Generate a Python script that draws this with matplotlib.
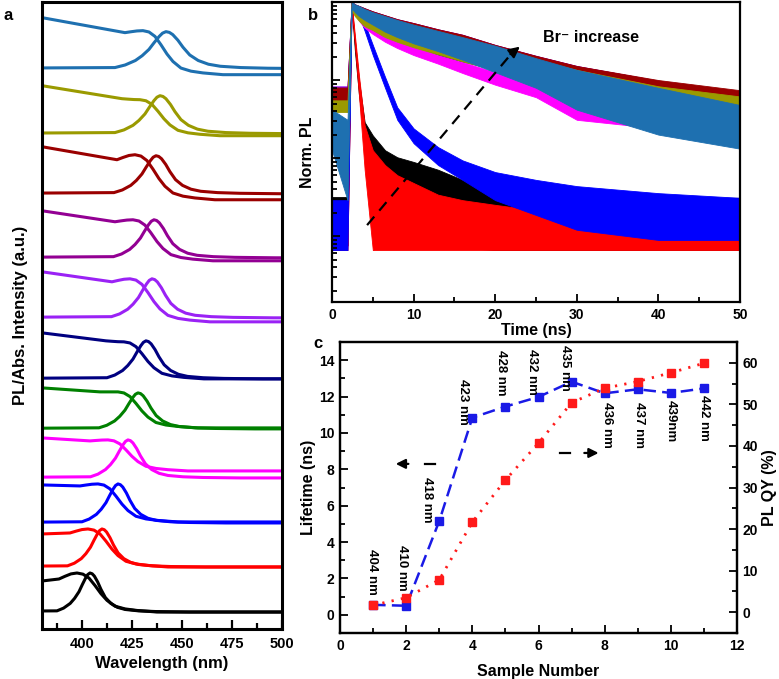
import numpy as np
import matplotlib
matplotlib.use('Agg')
import matplotlib.pyplot as plt
from matplotlib.ticker import MultipleLocator, NullFormatter, LogLocator

plt.rcParams['font.family'] = ['Liberation Sans', 'DejaVu Sans']
plt.rcParams['font.weight'] = 'bold'
plt.rcParams['axes.labelweight'] = 'bold'

# ---------------- data: panel a (PL / absorption spectra) ----------------
colors = ['#000000', '#ff0000', '#0000ff', '#ff00ff', '#008000', '#000080',
          '#9a22f5', '#930093', '#9a0000', '#9a9a00', '#1e70b0']
pl_peak = [404, 410, 418, 423, 428, 432, 435, 436, 437, 439, 442]
pl_width = [1.1, 1.15, 1.2, 1.25, 1.3, 1.3, 1.35, 1.35, 1.4, 1.5, 1.7]
pl_height = [39, 38, 39, 38, 36, 38, 39, 38, 38, 38, 37]
pl_base = [17, 62, 106, 151, 200, 250, 311, 371, 435, 495, 560]
abs_peak = [397.5, 403, 408, 413, 418, 421, 424, 425.5, 426.5, 429, 430.5]
abs_tail_shift = [0, 0, 1, 7, 1, 0, -4, -3, -6, -2, -6]
abs_left = [31, 33, 37, 33, 40, 46, 50, 50, 53, 50, 57]
abs_valley = [33, 34, 36, 30, 36, 38, 40, 39, 40, 37, 42]
abs_bump = [39, 38, 38, 31, 36, 37, 43, 41, 45, 36, 44]

# line shapes (offset from peak in nm, relative height)
pl_dx = [-80, -15, -12, -9, -7, -5, -3.5, -2, -1, 0, 1, 2, 3.5, 5, 7, 9.5, 12.5, 16, 22, 30, 45, 130]
pl_frac = [0, 0.03, 0.1, 0.22, 0.35, 0.52, 0.7, 0.87, 0.96, 1, 0.98, 0.92, 0.77, 0.58, 0.37,
           0.22, 0.12, 0.065, 0.03, 0.012, 0, 0]
abs_pre_dx = [-9, -6, -3]
abs_pre_w = [0, 0.45, 0.85]
abs_drop_dx = [0, 3, 6, 9, 12, 15, 19, 24, 30, 40, 120]
abs_drop_frac = [1, 0.97, 0.87, 0.68, 0.47, 0.3, 0.15, 0.08, 0.04, 0.0, 0.0]

# ---------------- data: panel b (PL decays, log10 of norm. PL, noise envelope) ----------------
t_knots = [0, 1.9, 2.4, 2.8, 3.3, 4, 5, 6.5, 8, 10, 13, 16, 20, 25, 30, 40, 50]
decay_hi = [
    [-2.50, -2.50, -0.01, -0.49, -1.00, -1.54, -1.71, -1.90, -1.99, -2.05, -2.15, -2.28, -2.38, -2.47, -2.50, -2.51, -2.51],
    [-3.12, -3.12, -0.01, -0.42, -0.94, -1.58, -1.90, -2.09, -2.22, -2.32, -2.47, -2.54, -2.60, -2.67, -2.73, -2.77, -2.77],
    [-2.54, -2.54, 0.00, -0.03, -0.09, -0.27, -0.55, -0.96, -1.35, -1.62, -1.86, -2.03, -2.18, -2.28, -2.36, -2.45, -2.51],
    [-1.10, -1.10, -0.01, -0.08, -0.17, -0.24, -0.32, -0.41, -0.49, -0.56, -0.67, -0.77, -0.90, -1.03, -1.13, -1.26, -1.35],
    [-1.15, -1.15, -0.01, -0.04, -0.08, -0.14, -0.21, -0.28, -0.35, -0.41, -0.50, -0.58, -0.68, -0.79, -0.90, -1.06, -1.19],
    [-1.19, -1.19, -0.01, -0.05, -0.10, -0.17, -0.24, -0.32, -0.38, -0.45, -0.54, -0.62, -0.72, -0.83, -0.94, -1.10, -1.22],
    [-1.08, -1.08, 0.00, -0.03, -0.05, -0.08, -0.12, -0.17, -0.22, -0.27, -0.35, -0.42, -0.55, -0.69, -0.82, -1.01, -1.15],
    [-1.09, -1.09, 0.00, -0.03, -0.05, -0.08, -0.12, -0.17, -0.22, -0.27, -0.35, -0.42, -0.55, -0.69, -0.82, -1.01, -1.16],
    [-1.10, -1.10, 0.00, -0.03, -0.05, -0.08, -0.12, -0.17, -0.22, -0.27, -0.35, -0.42, -0.55, -0.69, -0.82, -1.00, -1.13],
    [-1.26, -1.26, 0.00, -0.05, -0.09, -0.13, -0.17, -0.23, -0.28, -0.33, -0.41, -0.49, -0.60, -0.74, -0.87, -1.08, -1.21],
    [-1.38, -1.51, 0.00, -0.03, -0.05, -0.09, -0.13, -0.18, -0.23, -0.29, -0.37, -0.45, -0.56, -0.72, -0.87, -1.10, -1.32],
]
decay_lo = [
    [-2.60, -2.60, -0.04, -0.62, -1.19, -1.77, -2.54, -2.92, -2.99, -3.05, -3.12, -3.15, -3.18, -3.18, -3.18, -3.18, -3.18],
    [-3.18, -3.18, -0.04, -0.55, -1.19, -2.15, -3.18, -3.18, -3.18, -3.18, -3.18, -3.18, -3.18, -3.18, -3.18, -3.18, -3.18],
    [-3.18, -3.18, -0.05, -0.09, -0.17, -0.37, -0.68, -1.10, -1.51, -1.81, -2.09, -2.28, -2.54, -2.73, -2.92, -3.05, -3.05],
    [-1.23, -1.23, -0.05, -0.14, -0.24, -0.33, -0.41, -0.51, -0.59, -0.68, -0.79, -0.91, -1.06, -1.22, -1.51, -1.62, -1.67],
    [-1.32, -1.32, -0.05, -0.10, -0.15, -0.23, -0.31, -0.40, -0.46, -0.54, -0.64, -0.73, -0.85, -0.97, -1.10, -1.29, -1.41],
    [-1.36, -1.36, -0.05, -0.12, -0.18, -0.26, -0.33, -0.42, -0.49, -0.56, -0.67, -0.76, -0.87, -1.00, -1.13, -1.32, -1.44],
    [-1.23, -1.23, -0.08, -0.14, -0.19, -0.23, -0.28, -0.35, -0.40, -0.46, -0.54, -0.63, -0.74, -0.90, -1.03, -1.22, -1.36],
    [-1.24, -1.24, -0.08, -0.14, -0.19, -0.23, -0.28, -0.35, -0.40, -0.46, -0.54, -0.63, -0.74, -0.90, -1.03, -1.22, -1.37],
    [-1.26, -1.26, -0.08, -0.13, -0.18, -0.23, -0.28, -0.35, -0.40, -0.46, -0.54, -0.63, -0.74, -0.90, -1.03, -1.21, -1.33],
    [-1.41, -1.41, -0.10, -0.18, -0.24, -0.31, -0.36, -0.45, -0.51, -0.58, -0.67, -0.76, -0.87, -1.03, -1.15, -1.36, -1.49],
    [-1.90, -2.54, -0.08, -0.13, -0.18, -0.23, -0.29, -0.38, -0.45, -0.53, -0.63, -0.74, -0.90, -1.10, -1.38, -1.70, -1.88],
]

# ---------------- data: panel c ----------------
sample = [1, 2, 3, 4, 5, 6, 7, 8, 9, 10, 11]
lifetime = [0.55, 0.5, 5.16, 10.84, 11.45, 11.98, 12.82, 12.18, 12.4, 12.2, 12.45]
plqy = [1.7, 3.5, 7.8, 21.7, 31.8, 40.7, 50.4, 53.9, 55.5, 57.6, 59.9]
peak_labels = ['404 nm', '410 nm', '418 nm', '423 nm', '428 nm', '432 nm', '435 nm',
               '436 nm', '437 nm', '439nm', '442 nm']

fig = plt.figure(figsize=(7.79, 6.79), dpi=100)

# ================= panel a =================
ax = fig.add_axes([0.0539, 0.0736, 0.308, 0.924])
for i in range(11):
    c = colors[i]
    base = pl_base[i]
    x = [pl_peak[i] + pl_width[i] * d for d in pl_dx]
    y = [base + pl_height[i] * f for f in pl_frac]
    ax.plot(x, y, color=c, lw=2.2)
    tail = base + abs_tail_shift[i]
    b = abs_peak[i]
    xa = [380] + [b + d for d in abs_pre_dx] + [b + d for d in abs_drop_dx]
    ya = [tail + abs_left[i]]
    ya += [tail + abs_valley[i] + w * (abs_bump[i] - abs_valley[i]) for w in abs_pre_w]
    ya += [tail + abs_bump[i] * f for f in abs_drop_frac]
    ax.plot(xa, ya, color=c, lw=2.2)
ax.set_xlim(380, 500)
ax.set_ylim(0, 627)
ax.set_yticks([])
ax.xaxis.set_major_locator(MultipleLocator(25))
ax.xaxis.set_minor_locator(MultipleLocator(12.5))
ax.tick_params(axis='x', which='both', direction='in', top=False, labelsize=10.5, pad=6, width=1.6)
ax.tick_params(axis='x', which='major', length=6.5)
ax.tick_params(axis='x', which='minor', length=4)
for s in ax.spines.values():
    s.set_linewidth(2.2)
ax.set_xlabel('Wavelength (nm)', fontsize=12, labelpad=3)
ax.set_ylabel('PL/Abs. Intensity (a.u.)', fontsize=12, labelpad=10)

# ================= panel b =================
bx = fig.add_axes([0.4262, 0.5552, 0.5237, 0.4418])
for i in range(11):
    lo = [10 ** v for v in decay_lo[i]]
    hi = [10 ** v for v in decay_hi[i]]
    bx.fill_between(t_knots, lo, hi, color=colors[i], lw=0.6, edgecolor=colors[i])
bx.set_yscale('log')
bx.set_xlim(0, 50)
bx.set_ylim(10 ** -3.846, 1.0)
bx.xaxis.set_major_locator(MultipleLocator(10))
bx.xaxis.set_minor_locator(MultipleLocator(5))
bx.yaxis.set_major_locator(LogLocator(base=10))
bx.yaxis.set_minor_locator(LogLocator(base=10, subs=np.arange(2, 10)))
bx.yaxis.set_major_formatter(NullFormatter())
bx.yaxis.set_minor_formatter(NullFormatter())
bx.tick_params(which='both', direction='in', top=False, right=False, labelsize=10, pad=4, width=1.3)
bx.tick_params(which='major', length=6)
bx.tick_params(which='minor', length=3.5)
for s in bx.spines.values():
    s.set_linewidth(1.6)
bx.set_xlabel('Time (ns)', fontsize=11.5, labelpad=1)
bx.set_ylabel('Norm. PL', fontsize=11.5, labelpad=8)
bx.plot([4.3, 22.0], [10 ** -2.86, 10 ** -0.66], color='k', lw=1.6, ls=(0, (5, 3.5)))
bx.annotate('', xy=(23.3, 10 ** -0.55), xytext=(21.6, 10 ** -0.69),
            arrowprops=dict(arrowstyle='-|>', color='k', lw=1.6, mutation_scale=16))
bx.text(25.9, 10 ** -0.45, 'Br\u207b increase', fontsize=11.5, ha='left', va='center')

# ================= panel c =================
cx = fig.add_axes([0.4365, 0.0677, 0.5096, 0.4286])
cx.plot(sample, lifetime, color='#1a1ae6', lw=1.8, ls=(0, (5, 2.5)), marker='s', ms=5.5)
cx.set_xlim(0, 12)
cx.set_ylim(-1, 15)
cx2 = cx.twinx()
cx2.plot(sample, plqy, color='#ff1a1a', lw=2.0, ls=(0, (0.8, 2.6)), marker='s', ms=5.5)
cx2.set_ylim(-5, 65)
cx.xaxis.set_major_locator(MultipleLocator(2))
cx.xaxis.set_minor_locator(MultipleLocator(1))
cx.yaxis.set_major_locator(MultipleLocator(2))
cx.yaxis.set_minor_locator(MultipleLocator(1))
cx2.yaxis.set_major_locator(MultipleLocator(10))
cx2.yaxis.set_minor_locator(MultipleLocator(5))
for a in (cx, cx2):
    a.tick_params(which='both', direction='in', top=False, labelsize=10, pad=4, width=1.3)
    a.tick_params(which='major', length=6)
    a.tick_params(which='minor', length=3.5)
    for s in a.spines.values():
        s.set_linewidth(1.6)
cx.tick_params(axis='y', which='both', right=False)
cx.set_xlabel('Sample Number', fontsize=11.5, labelpad=8)
cx.set_ylabel('Lifetime (ns)', fontsize=11.5, labelpad=2)
cx2.set_ylabel('PL QY (%)', fontsize=11.5, labelpad=3)

label_xy = [(0.97, 2.36), (1.87, 2.58), (2.63, 6.32), (3.72, 11.7), (4.86, 13.3), (5.80, 13.35),
            (6.80, 13.57), (8.07, 10.44), (9.03, 10.44), (10.0, 10.66), (11.0, 10.8)]
for (lx, ly), s in zip(label_xy, peak_labels):
    cx.text(lx, ly, s, rotation=-90, fontsize=9.5, ha='center', va='center')

# left / right pointing arrows
cx.plot([2.57, 2.87], [8.3, 8.3], color='k', lw=1.6)
cx.annotate('', xy=(1.6, 8.3), xytext=(2.15, 8.3),
            arrowprops=dict(arrowstyle='-|>', color='k', lw=1.6, mutation_scale=14))
cx.plot([6.65, 6.95], [8.9, 8.9], color='k', lw=1.6)
cx.annotate('', xy=(7.9, 8.9), xytext=(7.3, 8.9),
            arrowprops=dict(arrowstyle='-|>', color='k', lw=1.6, mutation_scale=14))

# panel letters
fig.text(8 / 779, 1 - 15 / 679, 'a', fontsize=12, ha='center', va='center')
fig.text(313 / 779, 1 - 15 / 679, 'b', fontsize=12, ha='center', va='center')
fig.text(318 / 779, 1 - 343 / 679, 'c', fontsize=12, ha='center', va='center')

fig.savefig('out.png', dpi=100)
